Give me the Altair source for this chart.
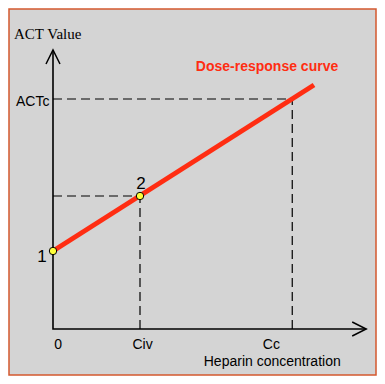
import altair as alt
import pandas as pd

# ---- values (conceptual units) ----
civ = 1.0            # Civ on the x axis
cc = 2.75            # Cc on the x axis
act0 = 7.8           # ACT value at zero concentration (point 1)
act_iv = 13.3        # ACT value at Civ (point 2)
act_c = 23.0         # ACTc
x_axis_end = 3.6
y_axis_end = 27.9
curve_x = [0.0, 3.0]
curve_y = [7.8, 24.4]

point_x = [0.0, civ]
point_y = [act0, act_iv]

# tick / annotation labels
tick_labels = ["0", "Civ", "Cc"]
tick_pos = [0.06, 1.03, 2.51]
point_labels = ["1", "2"]
point_label_x = [-0.126, 1.01]
point_label_y = [6.7, 14.0]

W, H = 367, 366
XD = [-0.5057, 3.7126]
YD = [-4.6, 32.0]

def X(f="x"):
    return alt.X(f"{f}:Q", scale=alt.Scale(domain=XD, nice=False, zero=False), axis=None)

def Y(f="y"):
    return alt.Y(f"{f}:Q", scale=alt.Scale(domain=YD, nice=False, zero=False), axis=None)

axes_df = pd.DataFrame({"x": [0, 0, x_axis_end], "y": [y_axis_end, 0, 0], "o": [0, 1, 2]})
axes = alt.Chart(axes_df).mark_line(color="black", strokeWidth=1.6).encode(
    x=X(), y=Y(), order="o:Q")

arrows_df = pd.DataFrame({"x": [0, x_axis_end], "y": [y_axis_end, 0], "a": [0, 90]})
arrows = alt.Chart(arrows_df).mark_point(
    shape="M -0.5 1 L 0 0 L 0.5 1", filled=False, color="black",
    strokeWidth=1.5, size=784, opacity=1).encode(
    x=X(), y=Y(), angle=alt.Angle("a:Q", scale=None))

dash_df = pd.DataFrame({
    "x": [0, cc, 0, civ],
    "y": [act_c, 0, act_iv, 0],
    "x2": [cc, cc, civ, civ],
    "y2": [act_c, act_c, act_iv, act_iv],
})
dashes = alt.Chart(dash_df).mark_rule(color="black", strokeWidth=1.2, strokeDash=[9, 5]).encode(
    x=X(), y=Y(), x2="x2:Q", y2="y2:Q")

curve_df = pd.DataFrame({"x": curve_x, "y": curve_y})
curve = alt.Chart(curve_df).mark_line(color="#ff2d12", strokeWidth=5, strokeCap="butt").encode(
    x=X(), y=Y())

pts_df = pd.DataFrame({"x": point_x, "y": point_y})
pts = alt.Chart(pts_df).mark_point(
    shape="circle", filled=True, fill="#ffff3a", stroke="black", strokeWidth=1,
    size=55, opacity=1).encode(x=X(), y=Y())

plabel_df = pd.DataFrame({"x": point_label_x, "y": point_label_y, "t": point_labels})
plabels = alt.Chart(plabel_df).mark_text(
    font="Liberation Sans", fontSize=17, color="black", align="center", baseline="alphabetic").encode(
    x=X(), y=Y(), text="t:N")

tick_df = pd.DataFrame({"x": tick_pos, "y": [-2.0] * 3, "t": tick_labels})
ticks = alt.Chart(tick_df).mark_text(
    font="Liberation Sans", fontSize=14, color="black", align="center", baseline="alphabetic").encode(
    x=X(), y=Y(), text="t:N")

xtitle = alt.Chart(pd.DataFrame({"x": [2.52], "y": [-3.7], "t": ["Heparin concentration"]})).mark_text(
    font="Liberation Sans", fontSize=14, color="black", align="center", baseline="alphabetic").encode(
    x=X(), y=Y(), text="t:N")

ytitle = alt.Chart(pd.DataFrame({"x": [-0.448], "y": [29.0], "t": ["ACT Value"]})).mark_text(
    font="Liberation Serif", fontSize=15, color="black", align="left", baseline="alphabetic").encode(
    x=X(), y=Y(), text="t:N")

actc = alt.Chart(pd.DataFrame({"x": [-0.425], "y": [22.3], "t": ["ACTc"]})).mark_text(
    font="Liberation Sans", fontSize=14, color="black", align="left", baseline="alphabetic").encode(
    x=X(), y=Y(), text="t:N")

curve_label = alt.Chart(pd.DataFrame({"x": [2.46], "y": [25.8], "t": ["Dose-response curve"]})).mark_text(
    font="Liberation Sans", fontSize=14, fontWeight="bold", color="#ff2d12", align="center",
    baseline="alphabetic").encode(x=X(), y=Y(), text="t:N")

chart = alt.layer(
    dashes, axes, arrows, curve, pts, plabels, ticks, xtitle, ytitle, actc, curve_label
).properties(
    width=W, height=H,
    autosize=alt.AutoSizeParams(type="none"),
    padding={"left": 1, "top": 1, "right": 1, "bottom": 1},
    background="white",
).configure_view(
    fill="#d4d4d4", stroke="#d4582e", strokeWidth=1.5
)

chart.save("out.html", embed_options={"renderer": "svg", "actions": False})
